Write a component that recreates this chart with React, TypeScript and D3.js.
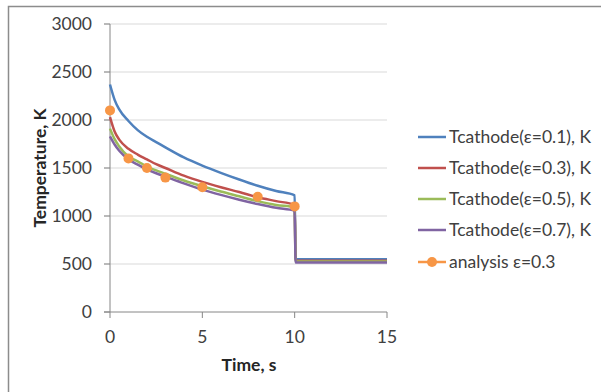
import React from "react";
import * as d3 from "d3";

// time points (s) for the simulated cathode curves
const times = [0, 0.25, 0.5, 1, 1.5, 2, 2.5, 3, 4, 5, 6, 7, 8, 9, 10, 10.05, 15];
const eps01 = [2370, 2210, 2110, 1990, 1895, 1825, 1770, 1715, 1610, 1525, 1450, 1380, 1315, 1260, 1215, 550, 550];
const eps03 = [2030, 1880, 1795, 1700, 1640, 1590, 1540, 1500, 1420, 1355, 1300, 1250, 1195, 1155, 1115, 535, 535];
const eps05 = [1910, 1800, 1725, 1620, 1570, 1515, 1475, 1440, 1370, 1310, 1255, 1205, 1155, 1115, 1090, 525, 525];
const eps07 = [1830, 1745, 1680, 1590, 1535, 1485, 1445, 1410, 1340, 1275, 1220, 1170, 1125, 1085, 1055, 515, 515];

// analytical points
const analysisT = [0, 1, 2, 3, 5, 8, 10];
const analysisV = [2100, 1600, 1500, 1400, 1300, 1200, 1100];

const yTicks = [0, 500, 1000, 1500, 2000, 2500, 3000];
const xTicks = [0, 5, 10, 15];

const seriesNames = [
  "Tcathode(ε=0.1), K",
  "Tcathode(ε=0.3), K",
  "Tcathode(ε=0.5), K",
  "Tcathode(ε=0.7), K",
];
const seriesColors = ["#4F81BD", "#C0504D", "#9BBB59", "#8064A2"];
const orange = "#F79646";

const font = "Lato, 'Open Sans', sans-serif";
const fs = 17.5;

export default function App() {
  const x = d3.scaleLinear().domain([0, 15]).range([110, 387]);
  const y = d3.scaleLinear().domain([0, 3000]).range([312, 24]);
  const line = d3
    .line<number>()
    .x((d, i) => x(times[i]))
    .y((d) => y(d))
    .curve(d3.curveMonotoneX);

  const allSeries = [eps01, eps03, eps05, eps07];
  const legendY = [137, 168, 199, 230];

  return (
    <svg
      width={601}
      height={392}
      style={{ position: "absolute", left: 0, top: 0, background: "#fff" }}
    >
      {/* chart frame */}
      <path d="M8.5,392 V6.5 H601" fill="none" stroke="#8c8c8c" strokeWidth={1.5} />

      {/* gridlines */}
      {yTicks.map((t) => (
        <g key={t}>
          {t > 0 && (
            <line x1={104} x2={387} y1={y(t)} y2={y(t)} stroke="#d9d9d9" strokeWidth={1} />
          )}
          <line x1={104} x2={110} y1={y(t)} y2={y(t)} stroke="#868686" />
          <text
            x={92}
            y={y(t)}
            dy="0.35em"
            textAnchor="end"
            fontFamily={font}
            fontSize={fs}
            fill="#404040"
          >
            {t}
          </text>
        </g>
      ))}

      {/* axes */}
      <line x1={110} x2={110} y1={24} y2={312} stroke="#868686" />
      <line x1={104} x2={387} y1={312} y2={312} stroke="#868686" />
      {xTicks.map((t) => (
        <g key={t}>
          <line x1={x(t)} x2={x(t)} y1={312} y2={318} stroke="#868686" />
          <text
            x={x(t)}
            y={337}
            dy="0.35em"
            textAnchor="middle"
            fontFamily={font}
            fontSize={fs}
            fill="#404040"
          >
            {t}
          </text>
        </g>
      ))}

      {/* axis titles */}
      <text
        x={249}
        y={365}
        dy="0.35em"
        textAnchor="middle"
        fontFamily={font}
        fontSize={fs}
        fontWeight="bold"
        fill="#262626"
      >
        Time, s
      </text>
      <text
        transform="translate(40,168) rotate(-90)"
        dy="0.35em"
        textAnchor="middle"
        fontFamily={font}
        fontSize={fs}
        fontWeight="bold"
        fill="#262626"
      >
        Temperature, K
      </text>

      {/* lines */}
      {allSeries.map((s, i) => (
        <path
          key={i}
          d={line(s) || ""}
          fill="none"
          stroke={seriesColors[i]}
          strokeWidth={2.5}
          strokeLinejoin="round"
        />
      ))}

      {/* analysis markers */}
      {analysisT.map((t, i) => (
        <circle key={i} cx={x(t)} cy={y(analysisV[i])} r={5} fill={orange} />
      ))}

      {/* legend */}
      {seriesNames.map((n, i) => (
        <g key={n}>
          <line x1={418} x2={446} y1={legendY[i]} y2={legendY[i]} stroke={seriesColors[i]} strokeWidth={2.5} />
          <text
            x={449}
            y={legendY[i]}
            dy="0.35em"
            fontFamily={font}
            fontSize={fs}
            fill="#404040"
          >
            {n}
          </text>
        </g>
      ))}
      <g>
        <line x1={418} x2={446} y1={262} y2={262} stroke={orange} strokeWidth={2.5} />
        <circle cx={432} cy={262} r={5} fill={orange} />
        <text x={449} y={262} dy="0.35em" fontFamily={font} fontSize={fs} fill="#404040">
          analysis ε=0.3
        </text>
      </g>
    </svg>
  );
}
